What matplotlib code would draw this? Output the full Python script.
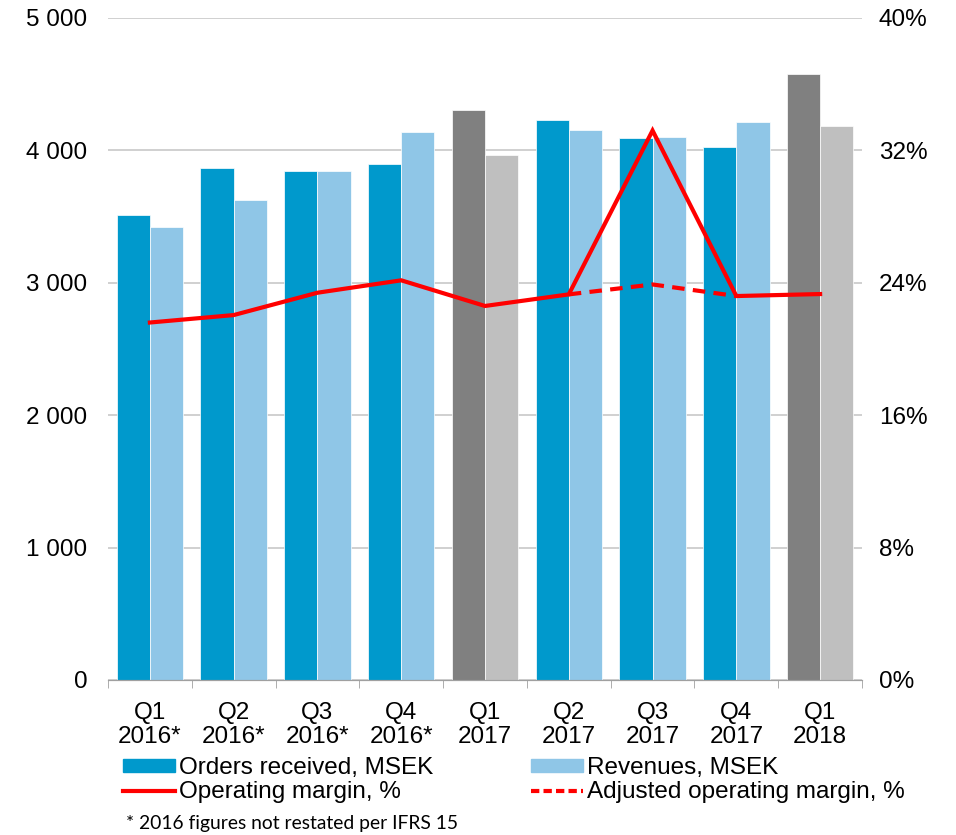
import matplotlib
matplotlib.use("Agg")
import matplotlib.pyplot as plt
import numpy as np
from matplotlib.patches import Patch
from matplotlib.lines import Line2D

plt.rcParams['font.family'] = ['Liberation Sans', 'DejaVu Sans']

quarters = ["Q1\n2016*", "Q2\n2016*", "Q3\n2016*", "Q4\n2016*", "Q1\n2017",
            "Q2\n2017", "Q3\n2017", "Q4\n2017", "Q1\n2018"]
orders = [3512, 3869, 3844, 3897, 4305, 4230, 4094, 4028, 4577]
revenues = [3419, 3623, 3844, 4139, 3965, 4154, 4100, 4215, 4184]
op_margin = [21.6, 22.05, 23.4, 24.15, 22.6, 23.3, 33.2, 23.2, 23.32]
adj_idx = [5, 6, 7]
adj_margin = [23.3, 23.9, 23.2]

# Q1 quarters use grey colouring
grey_q = [4, 8]

c_orders = "#0099CC"
c_rev = "#8FC6E7"
c_dgrey = "#808080"
c_lgrey = "#BFBFBF"
red = "#FF0000"
FS = 17.5

fig = plt.figure(figsize=(9.56, 8.35), dpi=100)
ax = fig.add_axes([108/956, 1-680/835, (862-108)/956, (680-18)/835])
ax2 = ax.twinx()

x = np.arange(len(quarters))
w = 0.397
oc = [c_dgrey if i in grey_q else c_orders for i in x]
rc = [c_lgrey if i in grey_q else c_rev for i in x]
ax.bar(x - w/2, orders, w, color=oc, edgecolor="white", linewidth=0.5, zorder=2)
ax.bar(x + w/2, revenues, w, color=rc, edgecolor="white", linewidth=0.5, zorder=2)

ax.set_ylim(0, 5000)
ax.set_xlim(-0.5, len(quarters) - 0.5)
ax.set_yticks(range(0, 5001, 1000))
ax.set_yticklabels(["0", "1 000", "2 000", "3 000", "4 000", "5 000"])
ax.yaxis.grid(True, color="#C8C8C8", linewidth=1.2, zorder=0)
ax.set_axisbelow(True)

ax.set_xticks(x)
ax.set_xticklabels(quarters, linespacing=1.12)
ax.set_xticks(np.arange(-0.5, len(quarters)), minor=True)
ax.tick_params(axis='x', which='major', length=0, pad=16, labelsize=FS)
ax.tick_params(axis='x', which='minor', length=6, color="#A0A0A0", direction='out')
ax.tick_params(axis='y', length=0, pad=15, labelsize=FS)

for a in (ax, ax2):
    for s in ("top", "left", "right"):
        a.spines[s].set_visible(False)
    a.spines["bottom"].set_color("#A0A0A0")

ax2.plot(x, op_margin, color=red, linewidth=3, zorder=5, solid_joinstyle='miter')
ax2.plot(x[adj_idx], adj_margin, color=red, linewidth=3, linestyle=(0, (3, 2)), zorder=4)
ax2.set_ylim(0, 40)
ax2.set_yticks(range(0, 41, 8))
ax2.set_yticklabels([f"{v}%" for v in range(0, 41, 8)])
ax2.tick_params(axis='y', length=0, pad=12, labelsize=FS)

handles = [Patch(color=c_orders), Line2D([], [], color=red, linewidth=3),
           Patch(color=c_rev), Line2D([], [], color=red, linewidth=3, linestyle=(0, (2, 1)))]
labels = ["Orders received, MSEK", "Operating margin, %", "Revenues, MSEK",
          "Adjusted operating margin, %"]
fig.legend(handles, labels, ncol=2, loc="upper left", bbox_to_anchor=(123/956, 1-757/835),
           frameon=False, fontsize=FS, handlelength=2.14, handleheight=0.45,
           handletextpad=0.17, columnspacing=4.0, labelspacing=0.1, borderpad=0,
           borderaxespad=0)

fig.text(126/956, 1-823/835, "* 2016 figures not restated per IFRS 15", fontsize=13.9,
         family=['Lato', 'DejaVu Sans'], va="center")

fig.savefig("out.png", dpi=100)
